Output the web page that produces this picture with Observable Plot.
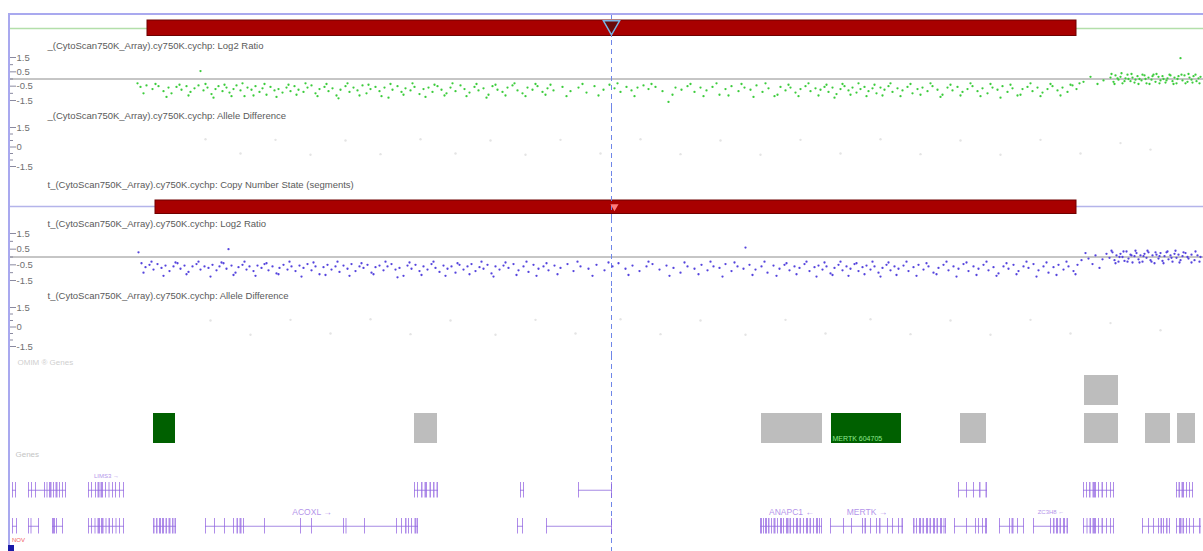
<!DOCTYPE html>
<html><head><meta charset="utf-8">
<script src="https://cdn.jsdelivr.net/npm/d3@7"></script>
<script src="https://cdn.jsdelivr.net/npm/@observablehq/plot@0.6"></script>
<style>
html,body{margin:0;padding:0;background:#fff;overflow:hidden;}
#chart{position:relative;width:1203px;height:551px;overflow:hidden;font-family:"Liberation Sans",Arial,sans-serif;background:#fff;}
#chart svg{display:block;}
#frame{position:absolute;left:8px;top:13px;right:-3px;bottom:-3px;border-left:2px solid #a9a9ef;border-top:2px solid #a9a9ef;pointer-events:none;z-index:2;}
#corner{position:absolute;left:8px;top:545px;width:6px;height:6px;background:#1a1aa8;z-index:3;}
#cornerTxt{position:absolute;left:12px;top:537px;font-size:6px;color:#f06060;z-index:3;}
</style></head>
<body>
<div id="chart"><div id="frame"></div><div id="corner"></div><div id="cornerTxt">NOV</div></div>
<script>
// ---------- data (positions in kb from window start) ----------
const X_DOMAIN = [0, 1203];
const CURSOR = 611;

const labels = [
  "_(CytoScan750K_Array).cy750K.cychp: Log2 Ratio",
  "_(CytoScan750K_Array).cy750K.cychp: Allele Difference",
  "t_(CytoScan750K_Array).cy750K.cychp: Copy Number State (segments)",
  "t_(CytoScan750K_Array).cy750K.cychp: Log2 Ratio",
  "t_(CytoScan750K_Array).cy750K.cychp: Allele Difference",
  "OMIM \u00ae Genes",
  "Genes"
];

const LOG2_TICKS = [1.5, 0.5, -0.5, -1.5];
const LOG2_MINOR = [1, 0, -1];
const AD_TICKS = [1.5, 0, -1.5];
const AD_MINOR = [1, 0.5, -0.5, -1];

// copy-number segments
const lossA = [{start: 147, end: 1076, cn: 1}];
const normalA = [{start: 10, end: 147, cn: 2}, {start: 1076, end: 1203, cn: 2}];
const lossB = [{start: 155, end: 1076, cn: 1}];
const normalB = [{start: 10, end: 155, cn: 2}, {start: 1076, end: 1203, cn: 2}];

// Log2 ratio, sample A [position, log2]
const log2A = [
[137,-0.3],[140,-0.55],[146,-0.45],[152,-0.7],[158,-0.5],[163,-0.85],[168,-0.6],[171,-1.0],[176,-0.55],[181,-0.75],[186,-0.5],[190,-0.9],[194,-0.65],[198,-0.45],[200,0.55],[203,-0.8],[207,-0.6],[211,-1.05],[215,-0.7],[218,-0.5],[222,-0.85],[226,-0.6],[229,-0.95],[233,-0.7],[236,-0.45],[240,-0.8],[244,-1.2],[247,-0.6],[251,-0.75],[255,-0.5],[259,-0.9],[262,-0.65],[266,-1.1],[270,-0.55],[274,-0.8],[278,-0.7],[282,-0.95],[286,-0.6],[290,-0.85],[294,-0.5],[298,-0.75],
[303,-0.9],[307,-0.6],[311,-0.45],[315,-1.0],[319,-0.7],[324,-0.55],[328,-0.85],[332,-0.65],[336,-1.15],[340,-0.75],[345,-0.5],[349,-0.9],[353,-0.6],[357,-0.8],[362,-0.45],[366,-1.0],[370,-0.7],[375,-0.55],[379,-0.85],[384,-0.6],[388,-1.3],[392,-0.75],[397,-0.5],[401,-0.9],[405,-0.65],[410,-0.8],[414,-0.55],[419,-1.05],[423,-0.7],[428,-0.6],[432,-0.9],[437,-0.5],[441,-0.75],[446,-1.0],[450,-0.6],[455,-0.85],[460,-0.45],[464,-0.7],[469,-0.95],[474,-0.55],[478,-0.8],[483,-0.65],[488,-1.1],[492,-0.5],[497,-0.75],[502,-0.9],[507,-0.6],[512,-0.45],[517,-0.8],[522,-1.0],[527,-0.6],[532,-0.75],[537,-0.5],[542,-0.9],[547,-0.65],[553,-0.8],
[562,-0.55],[570,-0.85],[578,-0.6],[586,-0.95],[594,-0.5],[603,-0.75],[609,-0.4],[614,-0.65],[620,-0.9],[626,-0.55],[631,-0.8],[637,-0.6],[643,-0.45],[648,-0.7],[655,-0.55],[662,-0.85],[668,-1.6],[675,-0.6],[681,-0.75],[687,-0.5],[694,-0.9],
[700,-0.6],[706,-0.8],[712,-0.55],[719,-1.1],[725,-0.7],[731,-0.5],[738,-0.85],[744,-0.6],[750,-0.75],[756,-0.45],[762,-0.9],[768,-0.65],[774,-1.2],[780,-0.55],[785,-0.8],[790,-0.6],[795,-0.95],[800,-0.7],[805,-0.5],[810,-0.85],[815,-0.65],[820,-0.75],[824,-0.55],[828,-0.9],[832,-0.6],[836,-1.05],[840,-0.7],[844,-0.5],[848,-0.8],[852,-0.6],[856,-0.95],[860,-0.7],[864,-0.55],[868,-0.85],[872,-0.65],[876,-1.0],[880,-0.6],[884,-0.75],[888,-0.5],[892,-0.9],[897,-0.65],
[902,-0.8],[907,-0.55],[912,-1.0],[917,-0.7],[922,-0.6],[927,-0.85],[932,-0.5],[937,-0.75],[942,-1.1],[947,-0.6],[952,-0.8],[957,-0.55],[962,-0.9],[967,-0.7],[972,-0.5],[977,-0.85],[982,-0.65],[987,-1.0],[992,-0.6],[997,-0.75],[1002,-0.5],[1007,-0.9],[1012,-0.65],[1017,-1.15],[1022,-0.7],[1027,-0.55],[1032,-0.85],[1037,-0.6],[1042,-0.95],[1047,-0.7],[1052,-0.5],[1057,-0.8],[1062,-0.6],[1067,-0.9],[1072,-0.45],[1076,-0.7],[1079,-0.3],
[1083,-0.2],[1090,0.15],[1097,-0.35],[1103,-0.1],
[1110,0.1],[1113,-0.2],[1115,0.25],[1118,-0.05],[1120,0.15],[1122,-0.3],[1125,0.05],[1127,0.3],[1130,-0.15],[1132,0.1],[1134,-0.25],[1137,0.2],[1139,0.0],[1141,-0.1],[1144,0.25],[1146,-0.3],[1148,0.1],[1151,-0.05],[1153,0.3],[1155,-0.2],[1158,0.15],[1160,-0.1],[1162,0.2],[1165,-0.25],[1167,0.05],[1169,0.3],[1172,-0.15],[1174,0.1],[1176,-0.3],[1178,0.2],[1180,1.45],[1182,-0.1],[1184,0.25],[1187,-0.2],[1189,0.1],[1191,-0.05],[1193,0.2],[1196,-0.15],[1198,0.05],[1200,0.15]
];
// further probes of sample A (outer part of the scatter band)
const log2A_more = [
[143,-1.0],[155,-0.35],[166,-1.25],[179,-0.4],[188,-1.15],[205,-0.35],[213,-1.3],[224,-0.4],[231,-1.2],[242,-0.3],[253,-1.15],[264,-0.35],[276,-1.25],[288,-0.4],[296,-1.1],[305,-0.3],[317,-1.2],[326,-0.35],[338,-1.35],[347,-0.3],[359,-1.15],[368,-0.4],[381,-1.2],[390,-0.35],[403,-1.1],[412,-0.3],[425,-1.25],[434,-0.4],[444,-1.15],[452,-0.3],[466,-1.2],[476,-0.35],[486,-1.3],[495,-0.4],[505,-1.15],[514,-0.3],[525,-1.2],[535,-0.35],[545,-1.1],[550,-0.4],[566,-1.2],[582,-0.35],[598,-1.15],[617,-0.3],[634,-1.2],[651,-0.35],[672,-1.1],[690,-0.35],[703,-1.2],[716,-0.3],[728,-1.15],[741,-0.35],[753,-1.25],[765,-0.3],[777,-1.1],[788,-0.4],[798,-1.2],[808,-0.3],[818,-1.15],[826,-0.4],[834,-1.3],[842,-0.35],[850,-1.1],[858,-0.3],[866,-1.2],[874,-0.4],[882,-1.15],[890,-0.3],[900,-1.2],[910,-0.35],[920,-1.1],[930,-0.3],[940,-1.25],[950,-0.4],[960,-1.15],[970,-0.3],[980,-1.2],[990,-0.35],[1000,-1.3],[1010,-0.4],[1020,-1.1],[1030,-0.3],[1040,-1.2],[1050,-0.35],[1060,-1.15],[1070,-0.4],
[1111,0.35],[1114,-0.35],[1117,0.05],[1121,0.4],[1124,-0.15],[1128,0.0],[1131,0.35],[1135,-0.05],[1138,-0.35],[1142,0.3],[1145,0.0],[1149,-0.35],[1152,0.2],[1156,0.35],[1159,-0.3],[1163,0.0],[1166,-0.1],[1170,0.25],[1173,-0.35],[1177,0.0],[1181,0.3],[1185,-0.3],[1188,0.35],[1192,-0.25],[1195,0.3],[1199,-0.3]
];

// Log2 ratio, sample B [position, log2]
const log2B = [
[138,0.3],[141,-0.4],[145,-0.65],[149,-0.5],[153,-0.8],[157,-0.45],[161,-0.7],[165,-0.55],[169,-0.9],[173,-0.6],[177,-0.4],[180,-0.75],[184,-0.55],[188,-0.95],[192,-0.6],[196,-0.45],[200,-0.8],[204,-0.6],[208,-0.7],[212,-0.5],[216,-0.85],[219,-0.6],[223,-0.4],[226,-0.75],[228,0.5],[231,-0.55],[235,-1.0],[238,-0.65],[242,-0.5],[246,-0.8],[249,-0.6],[253,-0.9],[257,-0.55],[261,-0.7],[264,-0.45],[268,-0.85],[272,-0.6],[276,-1.05],[279,-0.7],[283,-0.5],[287,-0.8],[291,-0.6],[295,-0.9],[299,-0.55],
[303,-0.7],[307,-0.45],[311,-0.85],[315,-0.6],[319,-1.1],[323,-0.65],[327,-0.5],[331,-0.8],[335,-0.6],[339,-0.95],[343,-0.55],[347,-0.75],[351,-0.45],[355,-0.9],[359,-0.6],[363,-0.7],[367,-0.5],[371,-1.0],[375,-0.65],[379,-0.55],[383,-0.85],[387,-0.6],[391,-0.45],[395,-0.8],[399,-0.7],[403,-1.2],[407,-0.55],[411,-0.75],[415,-0.5],[419,-0.9],[423,-0.6],[427,-0.8],[431,-0.45],[435,-0.7],[439,-0.95],[443,-0.55],[447,-0.75],[451,-0.6],[455,-1.0],[459,-0.5],[463,-0.8],[467,-0.6],[471,-0.45],[475,-0.9],[479,-0.65],[483,-0.75],[487,-0.5],[491,-1.05],[495,-0.6],[499,-0.8],[503,-0.55],[508,-0.7],[513,-0.45],[518,-0.85],[523,-0.6],[528,-0.95],[533,-0.5],[538,-0.75],[543,-0.6],[548,-0.85],[554,-0.55],
[560,-0.7],[567,-0.45],[573,-0.9],[580,-0.6],[588,-0.75],[596,-0.5],[604,-0.85],[612,-0.6],[618,-0.4],[625,-0.75],[632,-0.55],[639,-0.9],[646,-0.6],[652,-0.45],[659,-0.8],[666,-0.55],[673,-0.7],[680,-1.0],[687,-0.6],[694,-0.75],
[701,-0.5],[707,-0.85],[713,-0.6],[719,-0.7],[725,-0.45],[731,-0.9],[737,-0.6],[743,-0.75],[745,0.6],[749,-0.5],[755,-0.8],[761,-0.6],[767,-1.0],[773,-0.55],[779,-0.75],[784,-0.5],[789,-0.85],[794,-0.6],[799,-0.7],[804,-0.45],[809,-0.9],[814,-0.65],[818,-0.55],[822,-0.8],[826,-0.6],[830,-1.05],[834,-0.7],[838,-0.5],[842,-0.85],[846,-0.6],[850,-0.75],[854,-0.45],[858,-0.9],[862,-0.65],[866,-0.55],[870,-0.8],[874,-0.6],[878,-1.0],[882,-0.7],[886,-0.5],[890,-0.85],[894,-0.6],[898,-0.75],
[903,-0.55],[908,-0.9],[913,-0.65],[918,-0.5],[923,-0.8],[928,-0.6],[933,-1.0],[938,-0.7],[943,-0.5],[948,-0.85],[953,-0.6],[958,-0.75],[963,-0.45],[968,-0.9],[973,-0.6],[978,-0.75],[983,-0.5],[988,-0.85],[993,-0.65],[998,-1.05],[1003,-0.6],[1008,-0.75],[1013,-0.5],[1018,-0.9],[1023,-0.6],[1028,-0.7],[1033,-0.45],[1038,-0.85],[1043,-0.6],[1048,-1.0],[1053,-0.65],[1058,-0.5],[1063,-0.8],[1068,-0.6],[1073,-0.9],[1077,-0.5],
[1081,-0.2],[1085,0.25],[1088,-0.1],[1092,-0.45],[1095,0.1],[1099,-0.7],[1102,-0.15],[1106,0.2],[1109,-0.05],[1112,0.3],[1114,-0.2],[1116,0.1],[1118,-0.3],[1120,0.2],[1122,0.0],[1124,-0.25],[1126,0.35],[1128,-0.1],[1130,0.15],[1132,-0.35],[1134,0.05],[1136,0.25],[1138,-0.15],[1140,0.1],[1142,-0.3],[1144,0.2],[1146,-0.05],[1148,0.3],[1150,-0.2],[1152,0.1],[1154,-0.4],[1156,0.15],[1158,-0.1],[1160,0.25],[1162,-0.25],[1164,0.05],[1166,0.3],[1168,-0.15],[1170,0.1],[1172,-0.3],[1174,0.2],[1176,-0.05],[1178,0.15],[1180,-0.2],[1182,0.05],[1185,0.25],[1188,-0.1],[1191,0.15],[1194,-0.2],[1197,0.1],[1200,0.0]
];
// further probes of sample B
const log2B_more = [
[143,-1.0],[151,-0.3],[163,-1.2],[175,-0.35],[186,-1.1],[198,-0.3],[210,-1.25],[221,-0.35],[233,-1.15],[244,-0.3],[255,-1.2],[266,-0.4],[278,-1.1],[289,-0.3],[301,-1.25],[313,-0.35],[325,-1.15],[337,-0.3],[349,-1.2],[361,-0.4],[373,-1.1],[385,-0.3],[397,-1.3],[409,-0.35],[421,-1.15],[433,-0.3],[445,-1.2],[457,-0.4],[469,-1.1],[481,-0.3],[493,-1.25],[505,-0.35],[516,-1.15],[526,-0.3],[536,-1.2],[546,-0.4],[557,-1.1],[577,-0.3],[592,-1.2],[608,-0.35],[628,-1.15],[648,-0.3],[669,-1.2],[684,-0.35],[698,-1.1],[710,-0.3],[722,-1.25],[734,-0.35],[752,-1.15],[764,-0.3],[776,-1.2],[786,-0.4],[796,-1.1],[806,-0.3],[816,-1.25],[824,-0.35],[832,-1.15],[840,-0.3],[848,-1.2],[856,-0.4],[864,-1.1],[872,-0.3],[880,-1.25],[888,-0.35],[896,-1.15],[906,-0.3],[916,-1.2],[926,-0.4],[936,-1.1],[946,-0.3],[956,-1.25],[966,-0.35],[976,-1.15],[986,-0.3],[996,-1.2],[1006,-0.4],[1016,-1.1],[1026,-0.3],[1036,-1.25],[1046,-0.35],[1056,-1.15],[1066,-0.3],[1075,-1.1],
[1111,0.4],[1115,-0.4],[1119,0.0],[1123,0.35],[1127,-0.3],[1131,0.1],[1135,0.4],[1139,-0.35],[1143,0.05],[1147,0.4],[1151,-0.3],[1155,0.3],[1159,0.05],[1163,-0.4],[1167,0.35],[1171,-0.05],[1175,0.4],[1179,-0.35],[1183,0.3],[1187,0.0],[1191,-0.35],[1195,0.35],[1199,-0.3]
];

// Allele difference (nearly invisible in the reference)
const alleleA = [[205,0.6],[240,-0.5],[275,0.55],[310,-0.6],[345,0.5],[380,-0.55],[420,0.6],[455,-0.5],[490,0.5],[525,-0.6],[560,0.55],[600,-0.5],[640,0.6],[680,-0.55],[720,0.5],[760,-0.6],[800,0.55],[840,-0.5],[880,0.6],[920,-0.55],[960,0.5],[1000,-0.6],[1040,0.55],[1080,-0.5],[1120,0.3],[1150,-0.2]];
const alleleB = [[210,0.5],[250,-0.6],[290,0.55],[330,-0.5],[370,0.6],[410,-0.55],[450,0.5],[495,-0.6],[535,0.55],[575,-0.5],[620,0.6],[660,-0.55],[700,0.5],[745,-0.6],[785,0.55],[825,-0.5],[870,0.6],[910,-0.55],[950,0.5],[990,-0.6],[1030,0.55],[1070,-0.5],[1110,0.3],[1160,-0.25]];

// OMIM genes: lane 0 = lower, lane 1 = upper
const omim = [
  {start: 153, end: 175, lane: 0, color: "#006000", label: ""},
  {start: 414, end: 437, lane: 0, color: "#bdbdbd", label: ""},
  {start: 761, end: 822, lane: 0, color: "#bdbdbd", label: ""},
  {start: 831, end: 901, lane: 0, color: "#006000", label: "MERTK 604705"},
  {start: 960, end: 986, lane: 0, color: "#bdbdbd", label: ""},
  {start: 1084, end: 1118, lane: 1, color: "#bdbdbd", label: ""},
  {start: 1084, end: 1118, lane: 0, color: "#bdbdbd", label: ""},
  {start: 1145, end: 1170, lane: 0, color: "#bdbdbd", label: ""},
  {start: 1177, end: 1195, lane: 0, color: "#bdbdbd", label: ""}
];

// RefSeq genes (row 1 / row 2) with exon extents
const genes = [
  {row: 1, start: 12, end: 16, name: "", exons: [[12,13],[15,16]]},
  {row: 1, start: 28, end: 66, name: "", exons: [[28,29],[31,32],[35,36],[44,45],[46.5,47.5],[49,51.5],[53,54],[55.5,57.5],[59,60],[62,63],[65,66]]},
  {row: 1, start: 88, end: 124, name: "LIMS3 \u2192", small: true, exons: [[88,89],[91,92],[95,96],[97.5,99.5],[100.5,103],[105,106],[108.5,109.5],[112,113],[115,116],[119,120],[123,124]]},
  {row: 1, start: 414, end: 438, name: "", exons: [[414,415],[417,418],[421,422.5],[424.5,427],[429.5,431],[433,434.5],[436.5,438]]},
  {row: 1, start: 520, end: 524, name: "", exons: [[520,521],[523,524]]},
  {row: 1, start: 578, end: 612, name: "", exons: [[578,579],[611,612]]},
  {row: 1, start: 958, end: 987, name: "", exons: [[958,959],[966,967],[973,974],[979,980.5],[985.5,987]]},
  {row: 1, start: 1083, end: 1114, name: "", exons: [[1083,1084],[1086,1087],[1089,1090.5],[1092.5,1096],[1098,1099],[1101.5,1103],[1106,1107],[1110,1111],[1113,1114]]},
  {row: 1, start: 1176, end: 1193, name: "", exons: [[1176,1177],[1178.5,1180],[1181.5,1184],[1186,1187],[1189,1190],[1192,1193]]},
  {row: 2, start: 12, end: 17, name: "", exons: [[12,13],[16,17]]},
  {row: 2, start: 28, end: 39, name: "", exons: [[28,29],[30.5,31.5],[38,39]]},
  {row: 2, start: 52, end: 63, name: "", exons: [[52,55],[56,57],[62,63]]},
  {row: 2, start: 88, end: 124, name: "", exons: [[88,89],[91,92],[94.5,95.5],[97.5,100],[101,103.5],[105.5,106.5],[108.5,110],[112,113],[115.5,116.5],[119,120],[123,124]]},
  {row: 2, start: 153, end: 176, name: "", exons: [[153,154.5],[156,157.5],[159,161],[162,164],[165.5,167],[168.5,170.5],[172,173.5],[174.5,176]]},
  {row: 2, start: 205, end: 418, name: "ACOXL \u2192", exons: [[205,206],[214,215],[224,225],[233,234],[236.5,238],[239.5,241.5],[243,244],[264,265],[300,301],[311,312],[343,344],[345.5,346.5],[364,365],[396,397],[401,402],[405,406.5],[408,409],[411,412],[414.5,416.5],[417,418]]},
  {row: 2, start: 517, end: 523, name: "", exons: [[517,518],[522,523]]},
  {row: 2, start: 546, end: 612, name: "", exons: [[546,547],[611,612]]},
  {row: 2, start: 760, end: 822, name: "ANAPC1 \u2190", exons: [[760,762],[763,764],[765,767],[768,769.5],[771,772],[773.5,775.5],[777,778],[780,782],[783,784],[786,788.5],[789.5,791],[793,794],[796,798],[799.5,801],[803,804],[806,808],[809.5,811],[813,814],[816,818],[819,820],[821,822]]},
  {row: 2, start: 830, end: 903, name: "MERTK \u2192", exons: [[830,831],[843,844],[851,852],[862,863],[864.5,866],[870,871],[876,877],[879,880.5],[887,888],[892,893],[898,899],[901.5,903]]},
  {row: 2, start: 913, end: 946, name: "", exons: [[913,914.5],[916,917],[919,921],[922.5,924],[926,928],[929.5,931],[933,935],[936.5,938],[940,942],[943.5,944.5],[945,946]]},
  {row: 2, start: 954, end: 987, name: "", exons: [[954,955],[966,967],[975,976],[978,979],[982,983],[985,987]]},
  {row: 2, start: 999, end: 1024, name: "", exons: [[999,1000],[1009,1010],[1011.5,1013.5],[1017,1018],[1023,1024]]},
  {row: 2, start: 1033, end: 1068, name: "ZC3H8 \u2190", small: true, exons: [[1033,1034],[1050,1051],[1053,1054.5],[1056,1058],[1059.5,1061],[1063,1065],[1066.5,1068]]},
  {row: 2, start: 1083, end: 1114, name: "", exons: [[1083,1084],[1086.5,1087.5],[1089.5,1091],[1092.5,1096],[1098,1099],[1101.5,1103],[1106,1107],[1110,1111],[1113,1114]]},
  {row: 2, start: 1142, end: 1170, name: "", exons: [[1142,1143],[1148,1149],[1153,1154],[1158,1159],[1160.5,1162],[1163,1164],[1166,1167.5],[1169,1170]]},
  {row: 2, start: 1176, end: 1201, name: "", exons: [[1176,1177],[1179,1181.5],[1182.5,1184],[1186,1187],[1189,1190],[1193,1194],[1199,1200.5]]}
];

// ---------- drawing ----------
const W = 1203;
const FONT = '"Liberation Sans", Arial, sans-serif';
const chart = document.getElementById("chart");

function panel(height, y, marks) {
  return Plot.plot({
    width: W, height, margin: 0,
    style: {background: "transparent", fontFamily: FONT, fontSize: "9px", overflow: "visible"},
    x: {domain: X_DOMAIN, range: [0, W], axis: null},
    y: {...y, axis: null},
    color: {type: "identity"},
    marks
  });
}
const cursorRule = (opts = {}) => Plot.ruleX([CURSOR], {stroke: "#6f86e8", strokeDasharray: "5,4", strokeWidth: 1, ...opts});
const trackLabel = (text, dy, opts = {}) => Plot.text([text], {frameAnchor: "top-left", dx: 47, dy, text: d => d, textAnchor: "start", lineAnchor: "middle", fill: "#5a5a5a", fontSize: 9.5, ...opts});

function axisMarks(major, minor) {
  return [
    Plot.tickY(minor, {y: d => d, stroke: "#8a8aa0", insetLeft: 10, insetRight: W - 13}),
    Plot.tickY(major, {y: d => d, stroke: "#8a8aa0", insetLeft: 10, insetRight: W - 16}),
    Plot.text(major, {y: d => d, text: d => String(d), frameAnchor: "left", dx: 16, textAnchor: "start", fill: "#707070", fontSize: 9.5})
  ];
}

function cnPanel(height, loss, normal, label, lineColor, barTop, triangle) {
  return panel(height, {domain: [1, 3], range: [36, 20]}, [
    ...(label ? [trackLabel(label, 6)] : []),
    Plot.ruleY(normal, {x1: "start", x2: "end", y: "cn", stroke: lineColor, strokeWidth: 1.5}),
    Plot.barX(loss, {x1: "start", x2: "end", insetTop: barTop, insetBottom: 4.5, fill: "#a80000", stroke: "#6e0000", strokeWidth: 1}),
    cursorRule(label ? {} : {insetTop: 14}),
    triangle
  ]);
}

function log2Panel(height, yRange, label, pts, color) {
  return panel(height, {domain: [1.5, -1.5], range: yRange}, [
    Plot.ruleY([0], {stroke: "#8c8c8c", insetLeft: 10}),
    ...axisMarks(LOG2_TICKS, LOG2_MINOR),
    trackLabel(label, 5),
    cursorRule(),
    Plot.dot(pts, {x: d => d[0], y: d => d[1], r: 1.15, fill: color})
  ]);
}

function allelePanel(height, yRange, label, pts) {
  return panel(height, {domain: [1.5, -1.5], range: yRange}, [
    ...axisMarks(AD_TICKS, AD_MINOR),
    trackLabel(label, 7),
    cursorRule(),
    Plot.dot(pts, {x: d => d[0], y: d => d[1], r: 1.2, fill: "#e4e4e4"})
  ]);
}

// P1: copy number A (no label; sits under the top border)
chart.appendChild(cnPanel(40, lossA, normalA, null, "#b3dfaa", 20,
  Plot.dot([CURSOR], {x: d => d, dy: 5, symbol: "triangle", rotate: 180, r: 6, fill: "#6a0a0a", stroke: "#7ab4e4", strokeWidth: 1.5})));
// P2: log2 A
chart.appendChild(log2Panel(68, [17, 60], labels[0], log2A.concat(log2A_more), "#3ccc3c"));
// P3: allele A
chart.appendChild(allelePanel(70, [19, 58], labels[1], alleleA));
// P4: copy number B
chart.appendChild(cnPanel(40, lossB, normalB, labels[2], "#b4b4ea", 22,
  Plot.dot([CURSOR + 3], {x: d => d, dy: 8, symbol: "triangle", rotate: 180, r: 3, fill: "#ff7a7a"})));
// P5: log2 B
chart.appendChild(log2Panel(70, [15, 62], labels[3], log2B.concat(log2B_more), "#5544dd"));
// P6: allele B
chart.appendChild(allelePanel(67, [19, 58], labels[4], alleleB));

// P7: OMIM genes
chart.appendChild(panel(93, {type: "band", domain: [1, 0], range: [20, 88], paddingInner: 0.2105, paddingOuter: 0, round: false}, [
  Plot.text([labels[5]], {frameAnchor: "top-left", dx: 17, dy: 7, text: d => d, textAnchor: "start", lineAnchor: "middle", fill: "#cfcfcf", fontSize: 8}),
  cursorRule(),
  Plot.barX(omim, {x1: "start", x2: "end", y: "lane", fill: "color"}),
  Plot.text(omim.filter(d => d.label), {x: "start", y: "lane", text: "label", dx: 1, dy: 10, textAnchor: "start", fill: "#8fe88f", fontSize: 7})
]));

// P8: genes
const exons = genes.flatMap(g => g.exons.map(([s, e]) => ({row: g.row, s, e})));
chart.appendChild(panel(103, {type: "band", domain: [1, 2], range: [34, 85.5], paddingInner: 0.57, paddingOuter: 0, round: false}, [
  Plot.text([labels[6]], {frameAnchor: "top-left", dx: 15, dy: 6, text: d => d, textAnchor: "start", lineAnchor: "middle", fill: "#c4c4c4", fontSize: 8}),
  cursorRule(),
  Plot.ruleY(genes, {x1: "start", x2: "end", y: "row", stroke: "#a68ae4", strokeWidth: 1}),
  Plot.barX(exons, {x1: "s", x2: "e", y: "row", fill: "#9466e2", fillOpacity: 0.75}),
  Plot.text(genes.filter(d => d.name), {x: d => (d.start + d.end) / 2, y: "row", text: "name", dy: -14, fill: "#b495ea", fontSize: d => d.small ? 6 : 8.5, letterSpacing: "0.8px"})
]));
</script>
</body></html>
